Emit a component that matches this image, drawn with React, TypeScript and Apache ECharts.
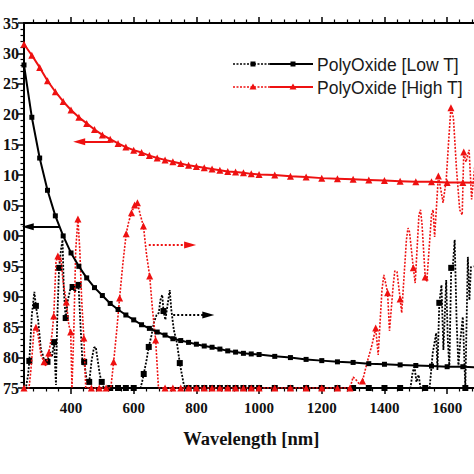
import React, { useEffect, useRef } from "react";
import * as echarts from "echarts";

// ---- data ----
const seriesNames = ["PolyOxide [Low T]", "PolyOxide [High T]"];
const xAxisTitle = "Wavelength [nm]";

const solidLambda = [
  250, 275, 300, 325, 350, 375, 400, 425, 450, 475, 500, 525, 550, 575, 600, 625, 650, 675, 700, 725,
  750, 775, 800, 825, 850, 875, 900, 925, 950, 975, 1000, 1050, 1100, 1150, 1200, 1250, 1300, 1350,
  1400, 1450, 1500, 1550, 1600, 1650, 1700,
];
const lowTSolid = [
  2.281, 2.195, 2.128, 2.075, 2.033, 2.0, 1.972, 1.95, 1.931, 1.915, 1.902, 1.889, 1.879, 1.87, 1.862,
  1.854, 1.848, 1.842, 1.837, 1.831, 1.828, 1.825, 1.822, 1.819, 1.817, 1.814, 1.811, 1.809, 1.807,
  1.806, 1.805, 1.802, 1.8, 1.797, 1.795, 1.793, 1.792, 1.79, 1.789, 1.788, 1.787, 1.786, 1.785, 1.785,
  1.784,
];
const highTSolid = [
  2.315, 2.297, 2.277, 2.255, 2.237, 2.221, 2.207, 2.195, 2.185, 2.175, 2.166, 2.159, 2.152, 2.146,
  2.141, 2.137, 2.132, 2.128, 2.125, 2.122, 2.119, 2.116, 2.114, 2.112, 2.11, 2.108, 2.106, 2.105,
  2.104, 2.102, 2.101, 2.1, 2.098, 2.097, 2.095, 2.094, 2.093, 2.092, 2.091, 2.09, 2.089, 2.089, 2.088,
  2.088, 2.087,
];

// dotted curves (right axis)
const lowTDotted: [number, number][] = [
  [250, 0], [256, 0], [263, 0.43], [267, 0.89], [275, 2.4], [283, 3.16], [288, 2.7], [295, 2.24],
  [304, 1.25], [310, 1.09], [317, 0.76], [325, 0.86], [333, 1.18], [339, 1.02], [346, 1.51],
  [352, 0.1], [356, 2.24], [362, 3.95], [368, 4.54], [373, 4.87], [377, 3.22], [383, 2.3], [390, 2.89],
  [397, 3.22], [405, 3.32], [412, 3.16], [424, 3.39], [431, 1.91], [437, 0.76], [442, 0.86],
  [450, 0.26], [458, 0.2], [466, 0.92], [473, 1.32], [479, 1.35], [485, 0.92], [492, 0.43], [498, 0.2],
  [505, 0], [525, 0], [550, 0], [575, 0], [600, 0], [622, 0], [628, 0.26], [632, 0.46], [641, 0.92],
  [648, 1.35], [657, 1.74], [664, 2.14], [673, 2.4], [680, 2.47], [685, 2.89], [691, 3.06], [695, 2.53],
  [701, 2.24], [708, 2.73], [715, 3.22], [720, 2.57], [728, 1.91], [738, 1.48], [747, 0.82], [754, 0.43],
  [760, 0.1], [765, 0], [775, 0], [800, 0], [825, 0], [850, 0], [875, 0], [900, 0], [925, 0], [950, 0],
  [975, 0], [1000, 0], [1050, 0], [1100, 0], [1150, 0], [1200, 0], [1250, 0], [1300, 0], [1350, 0],
  [1400, 0], [1450, 0], [1483, 0], [1490, 0.53], [1496, 0.69], [1502, 0.2], [1509, 0.43], [1515, 0],
  [1530, 0], [1544, 0], [1554, 1.15], [1565, 1.81], [1569, 0.59], [1575, 2.8], [1582, 3.39],
  [1588, 1.25], [1597, 3.55], [1602, 1.58], [1607, 0.69], [1613, 3.95], [1618, 3.98], [1624, 4.87],
  [1630, 2.24], [1636, 0.69], [1642, 1.58], [1650, 2.34], [1658, 0], [1666, 4.31], [1671, 2.89],
  [1676, 3.98], [1684, 4.0],
];
const lowTDottedMarks = [
  267, 288, 325, 346, 362, 383, 405, 424, 442, 458, 498, 525, 550, 575, 600, 632, 648, 695, 747, 775,
  800, 825, 850, 875, 900, 925, 950, 975, 1000, 1050, 1100, 1150, 1200, 1250, 1300, 1350, 1400, 1450,
  1530, 1575, 1613, 1658,
];

const highTDotted: [number, number][] = [
  [250, 0], [266, 0], [272, 0.59], [282, 1.91], [288, 2.0], [295, 1.74], [304, 1.09], [314, 0.86],
  [320, 0.72], [329, 1.15], [339, 1.74], [345, 2.37], [352, 4.14], [358, 4.34], [363, 4.14],
  [368, 4.28], [374, 3.55], [385, 2.83], [393, 2.07], [399, 1.84], [403, 0], [409, 1.91], [415, 4.54],
  [422, 5.56], [428, 4.54], [434, 2.89], [441, 1.64], [447, 0], [465, 0], [490, 0], [512, 0], [527, 0],
  [536, 0.86], [546, 1.91], [555, 2.96], [565, 4.05], [576, 5.07], [584, 5.46], [593, 5.76],
  [603, 6.02], [612, 6.09], [621, 5.69], [631, 5.33], [641, 4.38], [651, 3.68], [660, 2.57],
  [670, 1.58], [679, 0], [700, 0], [725, 0], [750, 0], [775, 0], [800, 0], [825, 0], [850, 0], [875, 0],
  [900, 0], [925, 0], [950, 0], [975, 0], [1000, 0], [1050, 0], [1100, 0], [1150, 0], [1200, 0],
  [1250, 0], [1290, 0], [1300, 0.36], [1310, 0.26], [1320, 0.13], [1330, 0.23], [1345, 0.86],
  [1360, 1.41], [1372, 1.97], [1380, 1.09], [1392, 3.22], [1398, 3.72], [1405, 3.39], [1410, 3.13],
  [1416, 1.88], [1428, 3.39], [1433, 3.85], [1440, 3.82], [1450, 2.93], [1455, 2.47], [1470, 4.87],
  [1475, 5.26], [1480, 5.13], [1492, 3.95], [1498, 3.45], [1510, 5.69], [1515, 5.86], [1520, 5.36],
  [1530, 3.65], [1535, 3.49], [1550, 5.69], [1555, 5.86], [1560, 4.97], [1572, 6.97], [1580, 6.51],
  [1587, 6.09], [1597, 6.84], [1605, 8.16], [1612, 9.21], [1620, 8.88], [1630, 7.17], [1640, 5.86],
  [1648, 5.69], [1653, 7.76], [1660, 7.43], [1670, 7.83], [1678, 6.2], [1690, 7.5],
];
const highTDottedMarks = [
  250, 288, 314, 329, 345, 358, 385, 399, 422, 441, 465, 490, 512, 536, 555, 576, 593, 603, 612, 631,
  651, 670, 700, 725, 750, 775, 800, 825, 850, 875, 900, 925, 950, 975, 1000, 1050, 1100, 1150, 1200,
  1250, 1290, 1330, 1372, 1410, 1450, 1492, 1530, 1572, 1612, 1653,
];

const xMajorTicks = [400, 600, 800, 1000, 1200, 1400, 1600];
const xMinorTicks = [
  280, 320, 360, 440, 480, 520, 560, 640, 680, 720, 760, 840, 880, 920, 960, 1040, 1080, 1120, 1160,
  1240, 1280, 1320, 1360, 1440, 1480, 1520, 1560, 1640, 1680,
];

// arrows: [fromLambda, toLambda, value]
const lowSolidArrow = [362, 262, 2.015];
const highSolidArrow = [526, 426, 2.155];
const highDotArrow = [648, 780, 4.7];
const lowDotArrow = [726, 838, 2.4];

const BLACK = "#000000";
const RED = "#ee1111";
const SERIF = "Liberation Serif";
const SANS = "Liberation Sans";

function arrowMark(a: number[], color: string, dotted: boolean) {
  return {
    silent: true,
    symbol: ["none", "triangle"],
    symbolSize: [7, 12],
    label: { show: false },
    lineStyle: { color, width: 2, type: dotted ? [2, 2] : "solid" },
    itemStyle: { color },
    emphasis: { disabled: true },
    data: [[{ coord: [a[0], a[2]] }, { coord: [a[1], a[2]] }]],
  };
}

export default function App() {
  const ref = useRef<HTMLDivElement>(null);
  useEffect(() => {
    if (!ref.current) return;
    const chart = echarts.init(ref.current, undefined, { renderer: "svg" });
    const lowMarks = new Set(lowTDottedMarks);
    const highMarks = new Set(highTDottedMarks);

    const xCommon = { type: "value", min: 250, max: 1700, splitLine: { show: false } };
    const option: any = {
      animation: false,
      backgroundColor: "#ffffff",
      grid: { left: 23, right: 1.5, top: 23, bottom: 86, containLabel: false },
      xAxis: [
        {
          ...xCommon,
          position: "bottom",
          name: xAxisTitle,
          nameLocation: "middle",
          nameGap: 41,
          nameTextStyle: { fontFamily: SERIF, fontWeight: "bold", fontSize: 18.5, color: "#111" },
          axisLine: { show: true, onZero: false, lineStyle: { color: BLACK, width: 2 } },
          axisTick: { show: true, customValues: xMajorTicks, length: 6, lineStyle: { color: BLACK, width: 1.5 } },
          axisLabel: {
            show: true,
            customValues: xMajorTicks,
            formatter: (v: number) => String(Math.round(v)),
            fontFamily: SERIF,
            fontWeight: "bold",
            fontSize: 15,
            color: "#111111",
            margin: 12,
          },
        },
        {
          ...xCommon,
          position: "bottom",
          axisLine: { show: false },
          axisTick: { show: true, customValues: xMinorTicks, length: 3.5, lineStyle: { color: BLACK, width: 1.2 } },
          axisLabel: { show: false },
        },
        {
          ...xCommon,
          position: "top",
          axisLine: { show: true, onZero: false, lineStyle: { color: BLACK, width: 2 } },
          axisTick: { show: true, customValues: xMajorTicks, length: 6, lineStyle: { color: BLACK, width: 1.5 } },
          axisLabel: { show: false },
        },
        {
          ...xCommon,
          position: "top",
          axisLine: { show: false },
          axisTick: { show: true, customValues: xMinorTicks, length: 3.5, lineStyle: { color: BLACK, width: 1.2 } },
          axisLabel: { show: false },
        },
      ],
      yAxis: [
        {
          type: "value",
          min: 1.75,
          max: 2.35,
          interval: 0.05,
          position: "left",
          splitLine: { show: false },
          axisLine: { show: true, onZero: false, lineStyle: { color: BLACK, width: 2 } },
          axisTick: { show: true, length: 6, lineStyle: { color: BLACK, width: 1.5 } },
          minorTick: { show: true, splitNumber: 5, length: 3.5, lineStyle: { color: BLACK, width: 1.2 } },
          axisLabel: {
            show: true,
            formatter: (v: number) => v.toFixed(2).slice(-2),
            fontFamily: SERIF,
            fontWeight: "bold",
            fontSize: 16,
            color: "#111111",
            margin: 5,
          },
        },
        { type: "value", min: 0, max: 12, position: "right", show: false },
      ],
      series: [
        {
          name: seriesNames[0] + " k",
          type: "line",
          xAxisIndex: 0,
          yAxisIndex: 1,
          data: lowTDotted.map(([x, y]) => ({ value: [x, y], symbol: lowMarks.has(x) ? "rect" : "none" })),
          symbolSize: 6,
          showAllSymbol: true,
          itemStyle: { color: BLACK },
          lineStyle: { color: BLACK, width: 1.8, type: [2, 1.5] },
          markLine: arrowMark(lowDotArrow, BLACK, true),
          z: 2,
        },
        {
          name: seriesNames[1] + " k",
          type: "line",
          xAxisIndex: 0,
          yAxisIndex: 1,
          data: highTDotted.map(([x, y]) => ({ value: [x, y], symbol: highMarks.has(x) ? "triangle" : "none" })),
          symbolSize: 7,
          showAllSymbol: true,
          itemStyle: { color: RED },
          lineStyle: { color: RED, width: 1.6, type: [2, 1.5] },
          markLine: arrowMark(highDotArrow, RED, true),
          z: 3,
        },
        {
          name: seriesNames[0],
          type: "line",
          xAxisIndex: 0,
          yAxisIndex: 0,
          data: solidLambda.map((x, i) => [x, lowTSolid[i]]),
          symbol: "rect",
          symbolSize: 5,
          itemStyle: { color: BLACK },
          lineStyle: { color: BLACK, width: 2 },
          markLine: arrowMark(lowSolidArrow, BLACK, false),
          z: 4,
        },
        {
          name: seriesNames[1],
          type: "line",
          xAxisIndex: 0,
          yAxisIndex: 0,
          data: solidLambda.map((x, i) => [x, highTSolid[i]]),
          symbol: "triangle",
          symbolSize: 7,
          itemStyle: { color: RED },
          lineStyle: { color: RED, width: 2 },
          markLine: arrowMark(highSolidArrow, RED, false),
          z: 5,
        },
      ],
      graphic: [
        { type: "line", shape: { x1: 233, y1: 64, x2: 270, y2: 64 }, style: { stroke: BLACK, lineWidth: 1.6, lineDash: [2, 1.5] } },
        { type: "rect", shape: { x: 250.5, y: 61.5, width: 5, height: 5 }, style: { fill: BLACK } },
        { type: "line", shape: { x1: 270, y1: 64, x2: 313, y2: 64 }, style: { stroke: BLACK, lineWidth: 2 } },
        { type: "rect", shape: { x: 290.5, y: 61.5, width: 5, height: 5 }, style: { fill: BLACK } },
        {
          type: "text",
          style: { text: seriesNames[0], x: 317, y: 64.5, verticalAlign: "middle", fontFamily: SANS, fontWeight: "normal", fontSize: 17.5, fill: "#1a1a1a" },
        },
        { type: "line", shape: { x1: 233, y1: 87, x2: 270, y2: 87 }, style: { stroke: RED, lineWidth: 1.6, lineDash: [2, 1.5] } },
        { type: "polygon", shape: { points: [[253, 83.5], [249.5, 89.5], [256.5, 89.5]] }, style: { fill: RED } },
        { type: "line", shape: { x1: 270, y1: 87, x2: 313, y2: 87 }, style: { stroke: RED, lineWidth: 2 } },
        { type: "polygon", shape: { points: [[293, 83.5], [289.5, 89.5], [296.5, 89.5]] }, style: { fill: RED } },
        {
          type: "text",
          style: { text: seriesNames[1], x: 317, y: 87.5, verticalAlign: "middle", fontFamily: SANS, fontWeight: "normal", fontSize: 17.5, fill: "#1a1a1a" },
        },
      ],
    };
    chart.setOption(option);
    return () => chart.dispose();
  }, []);

  return (
    <div
      style={{
        position: "fixed",
        left: 0,
        top: 0,
        width: 474,
        height: 474,
        overflow: "hidden",
        background: "#ffffff",
      }}
    >
      <div ref={ref} style={{ width: 480, height: 474 }} />
    </div>
  );
}
